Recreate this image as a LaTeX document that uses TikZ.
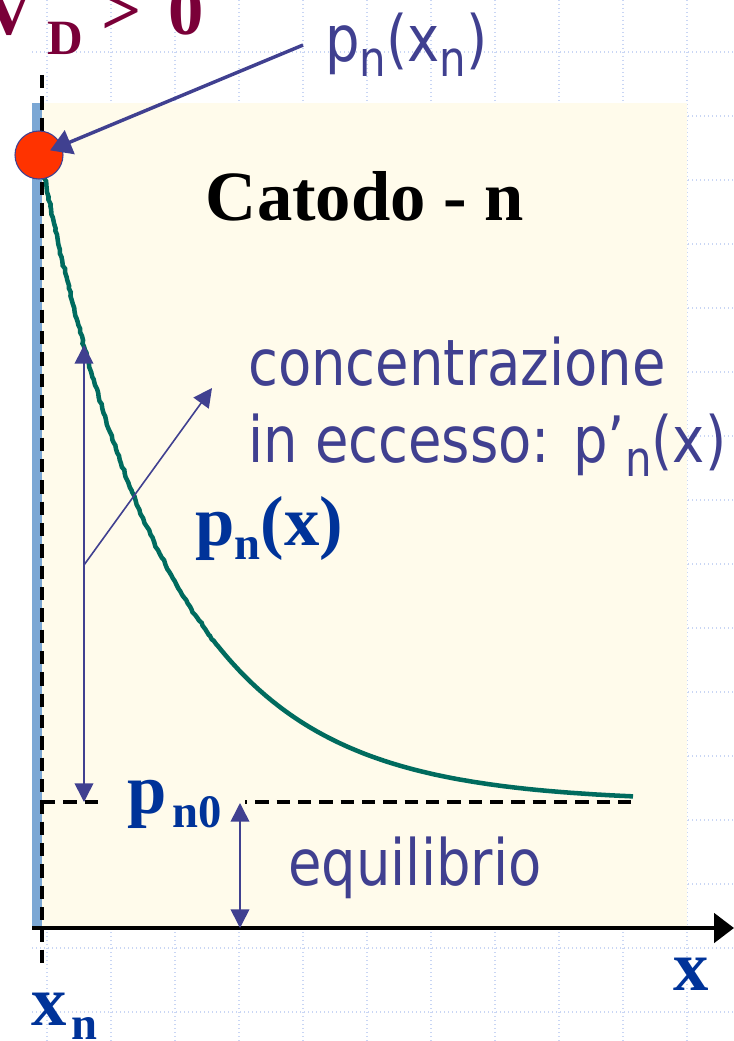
\documentclass[tikz,border=0pt]{standalone}
\usepackage{fontspec}
\setmainfont{Liberation Serif}
\newfontfamily\tahoma[FakeStretch=0.85]{DejaVu Sans}
\usetikzlibrary{arrows.meta,decorations.pathmorphing}

\definecolor{labelblue}{HTML}{404090}
\definecolor{boldblue}{HTML}{003399}
\definecolor{vdmaroon}{HTML}{7A0038}
\definecolor{cream}{HTML}{FFFBEB}
\definecolor{barblue}{HTML}{7BA7D4}
\definecolor{curveteal}{HTML}{006B5E}
\definecolor{gridblue}{HTML}{C9D6F4}
\definecolor{dotred}{HTML}{FF3300}

\newcommand{\tsub}[1]{\raisebox{-11pt}{\fontsize{37pt}{37pt}\selectfont #1}}
\newcommand{\bsub}[1]{\raisebox{-11pt}{\fontsize{35pt}{35pt}\selectfont #1}}

\begin{document}
\begin{tikzpicture}[x=0.75pt, y=-0.75pt,
    gridline/.style={gridblue, line width=1.1pt, dash pattern=on 1.1pt off 1.9pt},
    guide/.style={black, line width=2.5pt, dash pattern=on 10pt off 6pt},
    dimarrow/.style={labelblue, line width=1.2pt, {Triangle[length=14pt,width=14pt]}-{Triangle[length=14pt,width=14pt]}},
    onearrow/.style={labelblue, line width=1.2pt, -{Triangle[length=14pt,width=14pt]}},
    tahomatext/.style={font=\tahoma\fontsize{48pt}{57.75pt}\selectfont, text=labelblue, inner sep=0pt},
    serifbold/.style={font=\bfseries\fontsize{53pt}{60pt}\selectfont, text=boldblue, inner sep=0pt}]
    \useasboundingbox (0,0) rectangle (734,1041);

    % 背景网格
    \foreach \gx in {47,111,...,687}
        \draw[gridline] (\gx,0) -- (\gx,1041);
    \foreach \gy in {52,116,...,1012}
        \draw[gridline] (32,\gy) -- (734,\gy);

    % 阴极区域与接触面
    \fill[cream] (42,103) rectangle (687,926);
    \fill[barblue] (32,103) rectangle (42,928);

    % 坐标轴
    \coordinate (axstart) at (32,928);
    \coordinate (axend) at (734,928);
    \draw[line width=3pt, -{Triangle[length=15pt,width=22pt]}] (axstart) -- (axend);

    % 虚线
    \draw[guide] (42,75) -- (42,967);
    \draw[guide] (42,802) -- (634,802);

    % 浓度曲线 p_n(x)
    \draw[curveteal, line width=3.4pt, decorate, decoration={random steps, segment length=3pt, amplitude=0.7pt},
        domain=43:633, samples=160] plot (\x, {802-632*exp(-(\x-43)/125)});

    % 左侧标注箭头
    \coordinate (ptop) at (84,345);
    \coordinate (pbot) at (84,802);
    \coordinate (pmid) at (84,565);
    \coordinate (ctip) at (212,388);
    \draw[dimarrow] (ptop) -- (pbot);
    \draw[onearrow] (pmid) -- (ctip);

    % 文字
    \node[font=\bfseries\fontsize{53pt}{60pt}\selectfont, text=vdmaroon, inner sep=0pt, anchor=base west] (vdlabel) at (-17,35)
        {V\hspace{10pt}\raisebox{-15pt}{\fontsize{37pt}{37pt}\selectfont D}\hspace{14pt}>\hspace{20pt}0};
    \node[font=\bfseries\fontsize{53pt}{60pt}\selectfont, inner sep=0pt, anchor=base] (catlabel) at (365,221) {Catodo - n};
    \node[tahomatext, anchor=base west, align=left] (ctext) at (248,462)
        {concentrazione\\in eccesso: p’\tsub{n}(x)};
    \node[serifbold, anchor=base west] (pnxlabel) at (195,545) {p\bsub{n}(x)};
    \node[serifbold, anchor=base west, fill=cream, inner xsep=17pt, inner ysep=2pt] (pn0label) at (105,813) {p\hspace{4pt}\bsub{n0}};
    \node[tahomatext, anchor=base west] (eqlabel) at (288,885) {equilibrio};
    \node[serifbold, anchor=base west] (xlabel) at (673,990) {x};
    \node[serifbold, anchor=base west] (xnlabel) at (31,1025) {x\hspace{4pt}\bsub{n}};

    % 平衡浓度箭头
    \coordinate (eqtop) at (240,803);
    \coordinate (eqbot) at (240,928);
    \draw[dimarrow] (eqtop) -- (eqbot);

    % 边界点 p_n(x_n)
    \node[circle, fill=dotred, draw=labelblue, line width=0.8pt, minimum size=36pt, inner sep=0pt] (pnode) at (39,155) {};
    \node[tahomatext, anchor=base west, inner xsep=16.5pt] (pxlabel) at (303,62) {p\tsub{n}(x\tsub{n})};
    \draw[labelblue, line width=2.6pt, -{Triangle[length=16pt,width=19pt]}, shorten >=9pt] (pxlabel.west) -- (pnode.center);
\end{tikzpicture}
\end{document}
